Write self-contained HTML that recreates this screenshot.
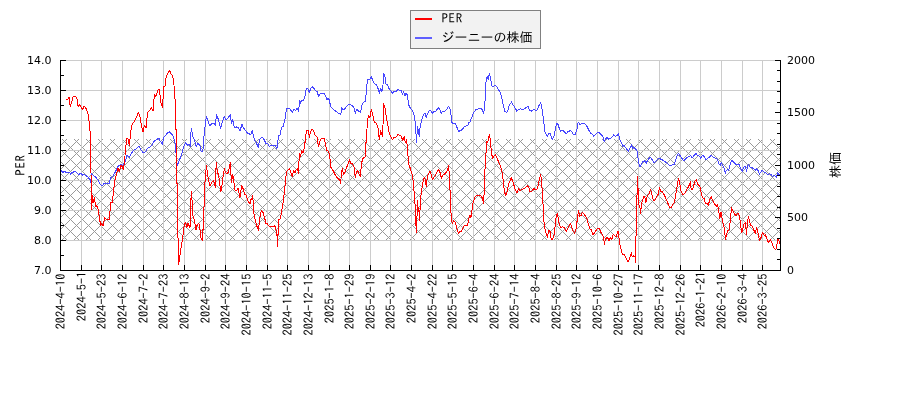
<!DOCTYPE html>
<html><head><meta charset="utf-8"><title>PER chart</title>
<style>html,body{margin:0;padding:0;background:#fff;}body{width:900px;height:400px;overflow:hidden;position:relative;}svg{display:block;}.t{font-family:"DejaVu Sans","Liberation Sans",sans-serif;font-size:11px;fill:#000;}.j{font-family:"IPAGothic","Liberation Sans",sans-serif;fill:#000;}.k{font-family:"Liberation Sans","IPAGothic",sans-serif;fill:#000;}</style></head><body>
<div style="position:absolute;left:0;top:0;width:900px;height:400px;will-change:transform"><svg width="900" height="400" viewBox="0 0 900 400">
<rect x="0" y="0" width="900" height="400" fill="#fff"/>
<defs><pattern id="hx" patternUnits="userSpaceOnUse" x="64" y="141" width="12" height="12"><rect x="0" y="0" width="1" height="1" fill="#999999"/><rect x="1" y="1" width="1" height="1" fill="#999999"/><rect x="1" y="11" width="1" height="1" fill="#999999"/><rect x="2" y="2" width="1" height="1" fill="#999999"/><rect x="2" y="10" width="1" height="1" fill="#999999"/><rect x="3" y="3" width="1" height="1" fill="#999999"/><rect x="3" y="9" width="1" height="1" fill="#999999"/><rect x="4" y="4" width="1" height="1" fill="#999999"/><rect x="4" y="8" width="1" height="1" fill="#999999"/><rect x="5" y="5" width="1" height="1" fill="#999999"/><rect x="5" y="7" width="1" height="1" fill="#999999"/><rect x="6" y="6" width="1" height="1" fill="#999999"/><rect x="7" y="5" width="1" height="1" fill="#999999"/><rect x="7" y="7" width="1" height="1" fill="#999999"/><rect x="8" y="4" width="1" height="1" fill="#999999"/><rect x="8" y="8" width="1" height="1" fill="#999999"/><rect x="9" y="3" width="1" height="1" fill="#999999"/><rect x="9" y="9" width="1" height="1" fill="#999999"/><rect x="10" y="2" width="1" height="1" fill="#999999"/><rect x="10" y="10" width="1" height="1" fill="#999999"/><rect x="11" y="1" width="1" height="1" fill="#999999"/><rect x="11" y="11" width="1" height="1" fill="#999999"/></pattern></defs>
<rect x="61" y="139" width="719" height="101" fill="url(#hx)" shape-rendering="crispEdges"/>
<g fill="#cccccc" shape-rendering="crispEdges"><rect x="81" y="60" width="1" height="210"/><rect x="101" y="60" width="1" height="210"/><rect x="122" y="60" width="1" height="210"/><rect x="143" y="60" width="1" height="210"/><rect x="163" y="60" width="1" height="210"/><rect x="184" y="60" width="1" height="210"/><rect x="205" y="60" width="1" height="210"/><rect x="225" y="60" width="1" height="210"/><rect x="246" y="60" width="1" height="210"/><rect x="267" y="60" width="1" height="210"/><rect x="287" y="60" width="1" height="210"/><rect x="308" y="60" width="1" height="210"/><rect x="329" y="60" width="1" height="210"/><rect x="349" y="60" width="1" height="210"/><rect x="370" y="60" width="1" height="210"/><rect x="390" y="60" width="1" height="210"/><rect x="411" y="60" width="1" height="210"/><rect x="432" y="60" width="1" height="210"/><rect x="452" y="60" width="1" height="210"/><rect x="473" y="60" width="1" height="210"/><rect x="494" y="60" width="1" height="210"/><rect x="514" y="60" width="1" height="210"/><rect x="535" y="60" width="1" height="210"/><rect x="556" y="60" width="1" height="210"/><rect x="576" y="60" width="1" height="210"/><rect x="597" y="60" width="1" height="210"/><rect x="618" y="60" width="1" height="210"/><rect x="638" y="60" width="1" height="210"/><rect x="659" y="60" width="1" height="210"/><rect x="680" y="60" width="1" height="210"/><rect x="700" y="60" width="1" height="210"/><rect x="721" y="60" width="1" height="210"/><rect x="742" y="60" width="1" height="210"/><rect x="762" y="60" width="1" height="210"/><rect x="61" y="60" width="719" height="1"/><rect x="61" y="90" width="719" height="1"/><rect x="61" y="120" width="719" height="1"/><rect x="61" y="150" width="719" height="1"/><rect x="61" y="180" width="719" height="1"/><rect x="61" y="210" width="719" height="1"/><rect x="61" y="240" width="719" height="1"/></g>
<polyline points="61.25,169.50 61.25,171.00 63.00,172.25 64.50,171.40 66.00,172.25 69.50,172.40 70.50,174.25 71.25,173.10 73.00,172.25 75.00,171.25 76.00,171.75 78.50,174.50 80.00,173.75 81.00,173.25 82.50,175.25 84.00,174.25 85.25,175.00 87.00,176.25 88.50,177.75 90.00,179.50 90.60,182.25 91.90,173.75 93.75,175.60 96.25,177.50 98.75,181.25 100.60,185.00 102.50,185.60 104.40,183.10 106.90,183.75 109.40,183.10 110.60,177.50 112.50,176.90 115.00,172.50 118.10,166.25 120.60,164.40 122.50,165.60 124.40,163.10 125.60,160.60 126.90,155.60 128.75,156.25 129.40,157.50 131.90,152.50 133.75,150.00 136.25,148.75 138.75,146.25 141.25,150.00 143.10,152.50 145.60,151.90 147.50,148.10 150.00,146.90 151.90,145.60 153.75,141.25 155.60,140.60 156.90,139.40 159.00,138.10 160.25,141.25 162.50,144.40 163.50,137.50 165.60,135.60 166.50,133.50 169.40,131.90 170.60,133.10 172.50,135.00 174.40,140.00 175.60,146.25 176.90,166.25 179.40,160.00 181.90,153.75 183.75,146.25 185.60,142.50 187.50,145.00 189.00,143.75 190.25,146.25 191.25,128.10 192.75,136.25 194.40,140.00 196.25,146.25 198.10,143.10 200.00,146.25 201.25,151.90 202.50,151.90 203.50,146.25 204.40,128.75 205.25,126.25 206.25,116.25 208.10,121.25 209.75,125.60 211.90,123.75 214.00,123.10 215.25,125.60 216.50,114.40 218.10,118.75 220.60,128.10 222.50,121.25 224.40,116.25 225.60,119.40 227.50,118.75 228.75,116.90 230.25,114.40 231.50,123.75 232.75,119.40 234.40,127.50 236.25,126.90 238.10,127.50 240.00,131.25 241.90,124.40 243.75,128.10 245.60,130.60 247.50,133.10 249.40,133.75 250.60,135.00 252.25,130.60 253.10,134.40 254.40,140.00 256.25,142.50 258.10,147.25 259.40,140.60 260.60,138.10 262.50,137.25 264.40,140.00 266.00,143.75 267.25,143.10 269.40,146.25 271.25,145.00 273.10,145.60 275.00,145.00 276.90,148.75 277.75,141.90 278.75,135.00 280.25,135.00 281.50,127.50 283.10,126.25 284.40,121.90 285.25,118.10 285.60,113.10 286.90,108.75 289.00,108.10 290.60,110.00 292.25,112.50 293.75,109.40 295.60,110.60 296.90,108.10 298.50,111.25 299.75,100.60 300.60,103.10 301.90,100.00 303.50,100.60 304.75,97.50 306.25,88.75 307.50,88.10 308.50,90.00 309.40,92.50 310.60,88.75 312.25,86.90 314.40,88.75 316.00,91.25 317.50,91.90 318.50,96.90 320.00,93.75 321.50,93.10 324.40,93.10 325.60,96.25 326.90,99.40 328.10,98.75 329.40,100.00 330.60,106.90 332.50,108.10 334.40,110.60 336.25,111.25 338.10,113.10 340.00,113.10 340.60,115.00 341.90,107.50 343.10,110.00 344.40,109.40 345.60,107.50 348.75,104.40 350.60,105.00 352.50,105.60 354.00,108.10 355.25,113.10 356.90,109.40 358.75,111.25 360.60,112.50 362.25,103.75 364.00,101.90 365.60,101.25 366.50,88.10 367.75,79.40 368.75,80.00 370.00,78.75 371.25,76.25 372.75,80.60 374.40,83.75 376.25,84.40 378.10,88.75 379.40,93.10 380.60,88.10 381.90,91.25 382.75,90.60 383.50,73.75 384.75,75.60 386.00,83.75 387.50,85.00 389.40,89.40 390.60,90.60 392.25,93.10 393.75,91.90 395.60,91.90 398.10,89.40 400.00,90.60 401.50,90.60 402.50,94.40 403.75,91.90 405.00,95.60 406.25,93.10 407.50,95.60 408.50,104.40 410.00,107.50 411.90,110.00 413.50,112.50 414.75,118.75 415.60,127.50 416.50,142.50 417.50,126.25 418.50,132.50 419.40,136.25 420.25,125.00 421.25,121.90 422.50,117.50 424.00,113.75 425.00,113.10 426.25,118.10 427.50,113.75 429.00,111.25 430.25,110.00 431.50,111.90 432.75,113.10 434.00,111.25 435.60,111.25 437.50,108.75 438.10,107.50 439.75,109.40 441.25,113.10 442.50,111.25 445.00,111.25 446.90,109.40 448.50,106.25 449.75,108.10 450.60,111.25 451.25,116.90 451.90,122.50 453.10,123.75 455.00,123.50 456.25,125.60 457.50,128.75 458.75,131.25 460.60,130.60 462.50,129.40 464.00,126.90 465.60,126.25 467.75,125.60 468.75,122.50 470.00,121.90 471.25,118.75 472.50,115.60 474.00,111.90 476.25,109.40 479.40,108.75 481.25,108.10 482.50,110.60 483.75,113.10 484.75,105.60 485.60,90.00 486.25,77.50 487.25,76.90 488.10,79.40 489.40,73.10 490.60,78.75 492.25,86.90 493.50,86.25 495.25,85.00 496.90,86.90 498.75,90.00 500.25,92.50 501.90,98.75 503.50,106.25 505.00,111.60 506.50,112.50 508.10,110.00 508.75,106.25 511.50,101.90 513.50,105.60 515.25,108.10 516.90,111.25 518.50,109.40 520.60,108.75 522.50,109.40 524.40,108.75 526.25,107.50 528.10,106.25 529.40,110.00 531.25,111.25 533.75,109.40 535.25,110.25 537.25,110.00 539.00,105.60 540.60,102.50 541.50,106.25 542.50,111.90 543.50,120.00 544.40,127.50 545.25,133.10 546.50,135.00 547.50,136.90 548.50,133.75 549.75,133.10 550.60,133.75 551.50,138.10 552.50,139.40 553.75,136.90 554.75,132.50 555.60,127.50 556.90,123.10 558.10,124.40 559.40,128.75 560.60,131.25 562.50,130.60 564.00,131.25 566.25,133.75 567.75,131.90 570.25,130.60 571.90,131.90 573.50,134.40 575.25,134.40 576.90,130.00 577.75,123.10 578.75,122.50 579.75,125.00 581.50,123.75 583.50,123.10 585.00,123.75 586.90,126.25 588.75,130.00 590.60,133.10 592.50,134.40 593.75,136.25 595.60,134.40 597.75,132.50 599.40,132.50 600.60,134.40 602.50,135.60 603.10,137.50 604.40,141.90 605.60,138.75 607.25,137.50 608.75,139.40 610.60,138.10 612.50,136.90 613.50,134.40 615.00,136.25 616.90,135.60 618.50,133.10 619.40,137.50 620.00,140.00 621.50,143.10 622.75,146.25 624.00,145.60 625.60,147.50 626.90,149.40 628.50,151.25 630.00,148.10 631.50,145.00 632.75,148.75 634.00,146.90 635.25,148.75 636.50,150.00 637.50,151.90 638.10,158.75 639.00,163.75 640.00,166.90 641.25,164.40 642.75,161.90 644.40,160.60 646.25,163.10 647.50,160.60 649.40,158.10 650.60,157.50 651.90,159.40 653.75,162.50 655.00,161.90 656.90,160.00 659.00,157.75 660.60,159.00 662.50,160.00 664.75,161.25 666.90,163.10 668.75,165.00 670.25,165.60 672.25,165.00 674.40,164.40 675.60,160.00 677.25,155.00 678.50,153.50 680.00,155.60 681.50,158.10 683.75,160.60 685.60,158.75 687.50,157.25 689.40,156.25 690.60,155.60 691.90,158.10 693.50,156.25 695.00,154.40 696.25,153.50 697.50,155.60 699.40,156.25 700.60,158.10 701.90,156.25 703.40,155.30 705.10,158.50 706.20,159.60 707.60,158.50 709.00,157.40 711.25,155.10 712.90,156.80 714.60,157.90 716.90,159.10 718.00,160.75 719.10,164.10 720.25,165.25 721.40,162.40 722.50,165.25 724.20,168.10 725.30,173.10 726.40,170.30 727.60,169.20 728.70,170.30 729.80,165.80 730.40,163.60 731.50,160.20 733.20,161.90 734.90,163.60 736.60,164.70 738.20,164.10 739.40,164.70 740.50,168.10 742.20,171.40 743.30,168.60 744.40,166.40 745.60,166.40 746.30,171.40 747.20,168.10 748.40,164.10 750.00,166.90 751.75,167.50 753.40,168.60 755.10,170.30 756.80,168.60 757.90,170.30 759.40,174.25 760.75,172.00 762.40,170.30 763.90,172.00 765.25,172.60 766.90,173.70 768.10,174.80 769.75,173.70 771.40,174.80 772.55,176.50 774.00,175.40 775.10,175.90 776.50,177.10 777.60,172.60 778.75,174.25 779.30,174.80" fill="none" stroke="#4646ff" stroke-width="1" stroke-linejoin="round" shape-rendering="crispEdges"/>
<polyline points="66.00,99.00 68.00,99.00 69.00,97.00 70.25,106.25 71.90,101.25 73.10,96.25 75.60,96.25 76.90,98.10 78.10,106.90 79.40,105.00 80.60,105.60 82.25,110.00 84.10,106.25 86.25,108.75 87.75,112.50 89.00,121.25 90.00,131.25 90.60,140.00 91.00,173.00 91.50,210.00 92.50,196.00 93.10,202.50 94.40,197.50 95.60,207.00 96.90,205.60 98.10,209.40 99.40,217.00 100.60,225.60 101.90,223.75 103.10,225.60 104.75,217.50 106.90,220.00 109.40,219.40 110.60,202.50 112.25,202.50 113.10,195.00 114.00,187.50 115.00,180.00 116.90,172.50 118.10,168.00 119.40,172.00 120.60,165.60 121.90,166.25 123.10,169.40 124.40,163.75 125.28,152.00 126.65,138.50 128.03,139.00 129.41,145.50 130.78,131.00 132.25,123.75 134.40,121.25 136.25,117.50 138.50,112.50 140.00,117.00 141.90,127.50 143.10,132.00 144.40,125.00 146.00,128.00 147.50,112.50 150.00,110.00 151.25,107.50 153.10,110.60 153.50,103.00 154.75,94.40 155.60,96.25 156.50,95.00 157.75,90.00 159.00,89.40 160.00,95.00 161.00,103.00 162.50,107.00 163.10,97.50 163.75,86.90 165.25,85.60 166.25,75.60 167.50,74.40 169.40,70.25 171.00,73.75 172.25,75.00 173.50,79.40 174.40,90.00 175.60,107.50 178.50,264.40 179.40,260.00 180.60,250.00 182.25,241.25 183.50,230.60 184.40,224.40 185.60,222.50 186.90,227.50 188.10,223.10 190.00,228.10 190.60,210.00 191.25,191.25 191.90,198.00 193.10,217.50 194.40,220.00 196.00,230.00 197.25,224.40 198.75,223.10 199.75,226.25 200.60,237.50 201.90,239.40 202.50,240.60 203.10,227.50 204.00,207.50 204.40,191.25 205.60,173.75 206.50,165.60 207.50,173.75 208.75,181.25 210.00,186.25 211.25,183.10 213.10,180.60 214.40,182.50 215.25,187.50 216.25,162.50 217.50,173.10 218.50,173.75 219.40,181.25 220.60,191.25 221.50,190.00 222.75,178.10 224.40,168.75 225.60,172.50 226.90,173.75 228.50,171.90 230.25,162.50 231.50,182.50 232.75,174.40 234.00,182.50 235.00,190.00 236.90,190.00 238.10,188.10 240.00,197.50 241.60,185.60 243.10,188.75 244.40,193.75 246.25,195.50 247.50,200.00 249.40,203.10 250.25,203.75 251.25,198.10 251.90,200.00 252.75,195.60 253.75,212.50 255.00,218.75 256.90,226.25 258.50,230.00 259.40,221.25 260.60,212.50 261.90,210.60 263.10,212.50 265.00,219.40 266.00,223.75 267.25,223.75 269.00,226.25 270.60,226.90 271.90,226.25 273.50,226.90 274.75,225.60 276.00,230.00 276.90,233.75 277.50,246.25 278.10,232.50 278.75,219.40 280.60,218.75 281.25,212.50 282.50,206.25 283.75,197.50 284.75,188.75 285.60,178.75 286.50,171.90 288.10,170.00 289.40,168.75 290.60,171.90 292.25,176.25 293.75,170.60 295.00,173.10 296.25,169.40 297.25,168.75 298.50,173.10 298.75,163.75 299.75,153.75 300.60,156.25 301.90,150.60 303.10,153.10 304.75,145.00 305.60,136.90 306.50,130.60 308.10,130.00 309.40,137.50 310.60,131.25 312.25,129.40 313.75,131.25 315.25,135.60 316.90,136.25 318.50,146.90 319.75,141.90 321.25,138.75 324.40,138.75 325.60,145.00 326.90,150.60 328.10,151.25 329.40,153.75 330.60,163.75 330.60,166.90 332.50,169.40 335.00,174.40 337.50,178.10 340.00,180.60 340.60,183.10 341.50,173.10 342.25,168.10 343.50,174.40 345.00,171.90 346.90,166.90 349.40,160.00 351.00,163.75 352.50,163.75 354.00,166.90 355.25,177.50 356.25,173.10 357.50,170.60 358.75,173.10 360.25,176.90 361.50,164.40 362.50,158.75 365.00,156.90 365.60,151.25 366.25,137.50 366.90,130.00 367.75,118.75 368.75,115.60 370.00,117.50 371.25,109.40 372.75,114.40 374.40,122.50 376.25,123.10 378.10,128.10 379.40,140.00 380.60,130.60 381.60,133.75 382.75,136.25 383.50,103.75 385.00,107.50 386.25,116.90 387.50,123.75 389.40,133.75 390.60,135.60 392.25,140.00 393.75,137.50 395.60,137.50 398.10,134.40 400.00,135.60 401.50,136.25 402.50,140.60 404.40,136.25 405.25,142.50 406.50,140.00 407.50,147.50 408.50,163.75 410.00,167.50 411.90,173.75 413.10,180.00 414.00,191.00 414.50,203.00 415.20,204.50 415.80,222.50 416.50,233.00 417.00,216.50 417.50,200.75 418.00,212.00 418.80,207.50 419.50,221.00 420.30,204.50 420.75,197.00 421.50,191.00 422.50,185.00 423.75,178.75 424.75,177.50 426.25,186.25 427.50,176.25 428.75,173.10 430.00,171.25 431.25,175.00 432.50,180.00 434.00,176.90 435.60,175.00 436.50,172.50 438.50,169.40 440.00,172.50 441.25,178.10 442.75,175.00 445.00,173.75 446.90,171.25 447.75,168.75 448.50,165.60 449.40,175.00 450.00,190.00 450.60,207.50 451.50,220.60 452.50,223.10 453.50,220.60 455.00,221.90 456.25,226.25 457.50,230.60 458.50,233.75 459.75,231.25 461.25,231.90 462.75,228.75 464.40,225.60 466.25,225.60 467.75,225.00 468.75,218.75 470.00,215.60 471.00,217.50 471.90,211.25 473.10,202.50 474.75,197.50 476.25,195.60 480.00,195.00 481.50,196.25 482.75,199.40 483.50,203.75 484.00,195.00 484.40,187.50 485.25,162.50 486.25,150.00 486.50,141.25 487.50,142.50 488.50,139.40 489.40,134.40 490.25,139.40 491.00,147.50 491.90,155.00 492.75,158.75 493.75,156.25 495.25,154.40 496.90,157.50 498.75,162.50 500.60,166.25 501.90,171.25 503.10,180.00 504.40,191.25 505.60,195.60 506.90,192.50 508.75,183.75 511.25,177.50 513.10,182.50 515.00,188.75 516.90,193.10 518.50,188.75 520.00,190.60 521.90,189.40 523.75,188.75 525.60,187.50 527.50,185.60 528.75,187.50 530.00,191.90 531.90,191.00 533.75,188.50 535.25,189.40 537.25,189.00 538.50,183.75 539.75,178.10 540.60,175.00 541.50,180.00 541.90,186.25 542.75,198.75 543.50,213.75 544.40,227.50 545.60,231.25 546.50,235.00 547.50,237.50 548.50,230.60 550.00,231.25 551.25,240.00 552.50,239.40 553.75,236.90 554.75,230.00 555.60,221.25 556.50,215.00 557.25,213.10 558.10,217.50 559.40,225.00 560.60,227.50 562.50,226.90 564.00,227.50 565.60,229.40 566.25,231.90 567.50,228.75 569.40,225.00 570.60,223.75 571.90,227.50 573.10,231.25 574.75,233.10 576.00,228.75 576.90,222.50 577.50,217.50 578.50,210.60 579.75,216.25 581.25,215.60 582.25,212.50 583.75,213.75 585.60,216.25 586.90,218.75 588.50,224.40 590.00,228.75 591.50,230.00 593.10,235.00 595.00,231.90 597.50,228.10 599.40,228.75 601.00,232.50 602.50,234.40 603.75,238.75 604.40,245.00 605.25,240.00 606.50,237.50 607.75,238.10 609.00,240.60 610.25,237.50 611.90,239.40 613.10,234.40 614.75,235.60 616.00,236.90 617.25,233.10 618.10,231.25 618.75,235.00 619.40,242.50 620.60,247.50 621.90,252.50 623.10,255.00 624.40,254.40 625.60,257.50 626.90,260.00 628.10,261.90 629.40,258.75 630.60,255.40 631.40,252.20 632.20,257.00 633.30,255.40 634.30,257.00 635.00,256.20 635.40,262.70 636.50,215.00 637.50,176.90 638.10,190.00 638.75,205.00 639.75,206.25 640.60,213.10 641.50,205.00 642.50,200.00 643.75,196.90 644.75,196.25 646.00,202.50 647.25,195.60 648.75,194.40 650.60,189.40 651.90,194.40 653.50,200.60 655.00,200.00 656.90,196.25 658.50,193.75 659.40,187.50 660.60,191.25 662.50,191.90 664.40,195.00 666.25,199.40 668.10,203.75 669.75,207.50 671.25,207.50 672.50,205.00 674.40,202.50 675.60,195.00 676.90,187.50 678.50,178.10 679.75,183.75 681.00,191.25 683.10,195.00 685.00,193.10 686.90,189.40 689.00,185.60 690.25,181.90 691.25,189.40 692.50,189.40 693.50,186.90 694.75,181.25 696.25,179.40 697.50,183.75 699.00,185.60 700.00,186.90 701.25,193.75 702.25,197.25 704.20,198.75 705.70,204.00 707.20,203.25 708.25,205.50 709.75,199.50 711.25,196.50 712.30,199.50 714.25,203.25 716.20,206.25 717.70,204.75 718.75,211.50 719.80,218.25 721.00,212.25 722.50,221.25 724.00,227.25 725.50,239.25 726.70,234.75 727.75,230.25 728.80,231.00 729.70,225.75 730.75,216.00 731.50,207.75 733.00,210.75 734.50,213.75 736.00,216.00 737.80,213.00 739.30,215.25 740.50,223.00 741.50,233.00 742.50,231.00 743.50,224.50 744.50,223.50 745.50,222.50 746.50,234.50 747.50,222.00 748.50,216.50 749.50,221.00 750.50,225.50 752.00,226.00 753.50,229.00 754.50,232.00 755.50,233.00 756.50,228.00 757.50,229.50 758.50,236.00 759.50,240.50 760.50,239.00 761.50,236.00 762.50,232.50 763.50,234.00 764.50,235.50 765.50,235.00 766.70,238.50 768.70,243.00 770.50,239.25 772.25,243.75 773.75,247.50 775.70,249.75 776.75,246.75 777.70,238.50 778.70,239.25 779.50,243.75" fill="none" stroke="#ff0000" stroke-width="1" stroke-linejoin="round" shape-rendering="crispEdges"/>
<g fill="#000" shape-rendering="crispEdges"><rect x="60" y="60" width="1" height="211"/><rect x="780" y="60" width="1" height="211"/><rect x="60" y="270" width="721" height="1"/><rect x="61" y="60" width="5" height="1"/><rect x="61" y="90" width="5" height="1"/><rect x="61" y="120" width="5" height="1"/><rect x="61" y="150" width="5" height="1"/><rect x="61" y="180" width="5" height="1"/><rect x="61" y="210" width="5" height="1"/><rect x="61" y="240" width="5" height="1"/><rect x="61" y="270" width="5" height="1"/><rect x="61" y="75" width="3" height="1"/><rect x="61" y="105" width="3" height="1"/><rect x="61" y="135" width="3" height="1"/><rect x="61" y="165" width="3" height="1"/><rect x="61" y="195" width="3" height="1"/><rect x="61" y="225" width="3" height="1"/><rect x="61" y="255" width="3" height="1"/><rect x="775" y="270" width="5" height="1"/><rect x="777" y="259" width="3" height="1"/><rect x="777" y="249" width="3" height="1"/><rect x="777" y="238" width="3" height="1"/><rect x="777" y="228" width="3" height="1"/><rect x="775" y="217" width="5" height="1"/><rect x="777" y="207" width="3" height="1"/><rect x="777" y="196" width="3" height="1"/><rect x="777" y="186" width="3" height="1"/><rect x="777" y="175" width="3" height="1"/><rect x="775" y="165" width="5" height="1"/><rect x="777" y="154" width="3" height="1"/><rect x="777" y="144" width="3" height="1"/><rect x="777" y="133" width="3" height="1"/><rect x="777" y="123" width="3" height="1"/><rect x="775" y="112" width="5" height="1"/><rect x="777" y="102" width="3" height="1"/><rect x="777" y="91" width="3" height="1"/><rect x="777" y="81" width="3" height="1"/><rect x="777" y="70" width="3" height="1"/><rect x="775" y="60" width="5" height="1"/><rect x="81" y="265" width="1" height="5"/><rect x="101" y="265" width="1" height="5"/><rect x="122" y="265" width="1" height="5"/><rect x="143" y="265" width="1" height="5"/><rect x="163" y="265" width="1" height="5"/><rect x="184" y="265" width="1" height="5"/><rect x="205" y="265" width="1" height="5"/><rect x="225" y="265" width="1" height="5"/><rect x="246" y="265" width="1" height="5"/><rect x="267" y="265" width="1" height="5"/><rect x="287" y="265" width="1" height="5"/><rect x="308" y="265" width="1" height="5"/><rect x="329" y="265" width="1" height="5"/><rect x="349" y="265" width="1" height="5"/><rect x="370" y="265" width="1" height="5"/><rect x="390" y="265" width="1" height="5"/><rect x="411" y="265" width="1" height="5"/><rect x="432" y="265" width="1" height="5"/><rect x="452" y="265" width="1" height="5"/><rect x="473" y="265" width="1" height="5"/><rect x="494" y="265" width="1" height="5"/><rect x="514" y="265" width="1" height="5"/><rect x="535" y="265" width="1" height="5"/><rect x="556" y="265" width="1" height="5"/><rect x="576" y="265" width="1" height="5"/><rect x="597" y="265" width="1" height="5"/><rect x="618" y="265" width="1" height="5"/><rect x="638" y="265" width="1" height="5"/><rect x="659" y="265" width="1" height="5"/><rect x="680" y="265" width="1" height="5"/><rect x="700" y="265" width="1" height="5"/><rect x="721" y="265" width="1" height="5"/><rect x="742" y="265" width="1" height="5"/><rect x="762" y="265" width="1" height="5"/></g>
<text class="t" x="51.5" y="64" text-anchor="end">14.0</text><text class="t" x="51.5" y="94" text-anchor="end">13.0</text><text class="t" x="51.5" y="124" text-anchor="end">12.0</text><text class="t" x="51.5" y="154" text-anchor="end">11.0</text><text class="t" x="51.5" y="184" text-anchor="end">10.0</text><text class="t" x="51.5" y="214" text-anchor="end">9.0</text><text class="t" x="51.5" y="244" text-anchor="end">8.0</text><text class="t" x="51.5" y="274" text-anchor="end">7.0</text><text class="t" x="787" y="64.0">2000</text><text class="t" x="787" y="115.5">1500</text><text class="t" x="787" y="169.0">1000</text><text class="t" x="787" y="220.5">500</text><text class="t" x="787" y="274.0">0</text>
<text class="j" font-size="12.4" transform="translate(65.40,273.60) rotate(-90)" text-anchor="end">2024-4-10</text><text class="j" font-size="12.4" transform="translate(86.40,271.60) rotate(-90)" text-anchor="end">2024-5-1</text><text class="j" font-size="12.4" transform="translate(106.40,273.60) rotate(-90)" text-anchor="end">2024-5-23</text><text class="j" font-size="12.4" transform="translate(127.40,273.60) rotate(-90)" text-anchor="end">2024-6-12</text><text class="j" font-size="12.4" transform="translate(148.40,273.60) rotate(-90)" text-anchor="end">2024-7-2</text><text class="j" font-size="12.4" transform="translate(168.40,273.60) rotate(-90)" text-anchor="end">2024-7-23</text><text class="j" font-size="12.4" transform="translate(189.40,273.60) rotate(-90)" text-anchor="end">2024-8-13</text><text class="j" font-size="12.4" transform="translate(210.40,273.60) rotate(-90)" text-anchor="end">2024-9-2</text><text class="j" font-size="12.4" transform="translate(230.40,273.60) rotate(-90)" text-anchor="end">2024-9-24</text><text class="j" font-size="12.4" transform="translate(251.40,273.60) rotate(-90)" text-anchor="end">2024-10-15</text><text class="j" font-size="12.4" transform="translate(272.40,273.60) rotate(-90)" text-anchor="end">2024-11-5</text><text class="j" font-size="12.4" transform="translate(292.40,273.60) rotate(-90)" text-anchor="end">2024-11-25</text><text class="j" font-size="12.4" transform="translate(313.40,273.60) rotate(-90)" text-anchor="end">2024-12-13</text><text class="j" font-size="12.4" transform="translate(334.40,273.60) rotate(-90)" text-anchor="end">2025-1-8</text><text class="j" font-size="12.4" transform="translate(354.40,273.60) rotate(-90)" text-anchor="end">2025-1-29</text><text class="j" font-size="12.4" transform="translate(375.40,273.60) rotate(-90)" text-anchor="end">2025-2-19</text><text class="j" font-size="12.4" transform="translate(395.40,273.60) rotate(-90)" text-anchor="end">2025-3-12</text><text class="j" font-size="12.4" transform="translate(416.40,273.60) rotate(-90)" text-anchor="end">2025-4-2</text><text class="j" font-size="12.4" transform="translate(437.40,273.60) rotate(-90)" text-anchor="end">2025-4-22</text><text class="j" font-size="12.4" transform="translate(457.40,273.60) rotate(-90)" text-anchor="end">2025-5-15</text><text class="j" font-size="12.4" transform="translate(478.40,273.60) rotate(-90)" text-anchor="end">2025-6-4</text><text class="j" font-size="12.4" transform="translate(499.40,273.60) rotate(-90)" text-anchor="end">2025-6-24</text><text class="j" font-size="12.4" transform="translate(519.40,273.60) rotate(-90)" text-anchor="end">2025-7-14</text><text class="j" font-size="12.4" transform="translate(540.40,273.60) rotate(-90)" text-anchor="end">2025-8-4</text><text class="j" font-size="12.4" transform="translate(561.40,273.60) rotate(-90)" text-anchor="end">2025-8-25</text><text class="j" font-size="12.4" transform="translate(581.40,273.60) rotate(-90)" text-anchor="end">2025-9-12</text><text class="j" font-size="12.4" transform="translate(602.40,273.60) rotate(-90)" text-anchor="end">2025-10-6</text><text class="j" font-size="12.4" transform="translate(623.40,273.60) rotate(-90)" text-anchor="end">2025-10-27</text><text class="j" font-size="12.4" transform="translate(643.40,273.60) rotate(-90)" text-anchor="end">2025-11-17</text><text class="j" font-size="12.4" transform="translate(664.40,273.60) rotate(-90)" text-anchor="end">2025-12-8</text><text class="j" font-size="12.4" transform="translate(685.40,273.60) rotate(-90)" text-anchor="end">2025-12-26</text><text class="j" font-size="12.4" transform="translate(705.40,271.60) rotate(-90)" text-anchor="end">2026-1-21</text><text class="j" font-size="12.4" transform="translate(726.40,273.60) rotate(-90)" text-anchor="end">2026-2-10</text><text class="j" font-size="12.4" transform="translate(747.40,273.60) rotate(-90)" text-anchor="end">2026-3-4</text><text class="j" font-size="12.4" transform="translate(767.40,273.60) rotate(-90)" text-anchor="end">2026-3-25</text>
<text class="j" font-size="13" transform="translate(24.8,165) rotate(-90)" text-anchor="middle" letter-spacing="0.6">PER</text><text class="k" font-size="13" transform="translate(839.5,165) rotate(-90)" text-anchor="middle">株価</text>
<rect x="410.5" y="10.5" width="130" height="38" fill="#f2f2f2" stroke="#808080" stroke-width="1"/><rect x="415" y="18" width="17" height="2" fill="#ff0000"/><rect x="415" y="37" width="17" height="2" fill="#5f5fff"/><text class="j" font-size="13" x="441.5" y="23" letter-spacing="0.6">PER</text><text class="k" font-size="13" x="441.5" y="41.5">ジーニーの株価</text>
</svg></div>
</body></html>
